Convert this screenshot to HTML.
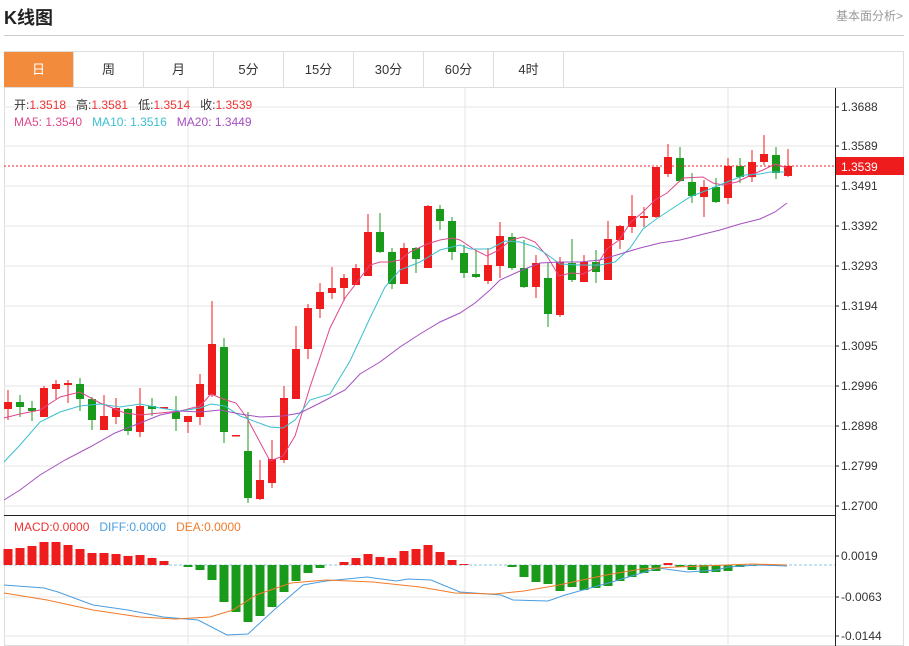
<!DOCTYPE html>
<html><head><meta charset="utf-8"><style>
body{margin:0;background:#fff;width:909px;height:646px;overflow:hidden;font-family:"Liberation Sans","Noto Sans CJK SC",sans-serif;}
.t{position:absolute;white-space:nowrap}
</style></head><body>
<div class="t" style="left:4px;top:4px;font-size:18px;font-weight:bold;color:#222">K线图</div>
<div class="t" style="left:836px;top:7px;font-size:12px;color:#999">基本面分析&gt;</div>
<div style="position:absolute;left:4px;top:35px;width:900px;height:1px;background:#ccc"></div>
<div style="position:absolute;left:4px;top:51px;width:900px;height:595px;border:1px solid #ddd;box-sizing:border-box"></div>
<div style="position:absolute;left:4px;top:87px;width:900px;height:1px;background:#ddd"></div>
<div id="tabs"></div>
<svg id="s" width="909" height="646" style="position:absolute;left:0;top:0" xmlns="http://www.w3.org/2000/svg" font-family="Liberation Sans, sans-serif"></svg>
<div class="t" style="left:14px;top:96px;font-size:12px;color:#333">开:<span style="color:#e33">1.3518</span>&nbsp;&nbsp; 高:<span style="color:#e33">1.3581</span>&nbsp;&nbsp; 低:<span style="color:#e33">1.3514</span>&nbsp;&nbsp; 收:<span style="color:#e33">1.3539</span></div>
<div class="t" style="left:14px;top:115px;font-size:12px"><span style="color:#e0488c">MA5: 1.3540</span>&nbsp;&nbsp;&nbsp;<span style="color:#3bbfcf">MA10: 1.3516</span>&nbsp;&nbsp;&nbsp;<span style="color:#a44fc0">MA20: 1.3449</span></div>
<div class="t" style="left:14px;top:520px;font-size:12px"><span style="color:#e33">MACD:0.0000</span>&nbsp;&nbsp;&nbsp;<span style="color:#4a9de0">DIFF:0.0000</span>&nbsp;&nbsp;&nbsp;<span style="color:#f07b2a">DEA:0.0000</span></div>
<script>
(function(){
var tabs=["日","周","月","5分","15分","30分","60分","4时"],h="";
tabs.forEach(function(t,i){h+='<div class="t" style="left:'+(4+70*i)+'px;top:52px;width:70px;height:35px;line-height:35px;text-align:center;font-size:13px;border-right:1px solid #ddd;box-sizing:border-box;'+(i==0?'background:#f28c3c;color:#fff':'color:#333')+'">'+t+'</div>';});
document.getElementById("tabs").innerHTML=h;
var s="";
[107,146,186,226,266,306,346,386,426,466,506,556,597,636].forEach(function(y){s+='<line x1="4" x2="835" y1="'+y+'" y2="'+y+'" stroke="#e6e6e6"/>';});
[188,465,728].forEach(function(x){s+='<line x1="'+x+'" x2="'+x+'" y1="88" y2="646" stroke="#e6e6e6"/>';});
s+='<line x1="4" x2="835" y1="515.5" y2="515.5" stroke="#222"/>';
s+='<line x1="835.5" x2="835.5" y1="88" y2="646" stroke="#222"/>';
var labs=[[107,"1.3688"],[146,"1.3589"],[186,"1.3491"],[226,"1.3392"],[266,"1.3293"],[306,"1.3194"],[346,"1.3095"],[386,"1.2996"],[426,"1.2898"],[466,"1.2799"],[506,"1.2700"],[556,"0.0019"],[597,"-0.0063"],[636,"-0.0144"]];
labs.forEach(function(l){s+='<line x1="835" x2="839" y1="'+l[0]+'" y2="'+l[0]+'" stroke="#222"/><text x="841" y="'+(l[0]+4)+'" font-size="12" fill="#333">'+l[1]+'</text>';});
var C=[[402,409,390,420,1],[402,407,395,417,0],[408,411,401,421,0],[388,417,386,417,1],[384,389,380,399,1],[383,385,380,403,1],[384,399,378,411,0],[399,420,397,430,0],[416,430,395,430,1],[408,417,398,424,1],[409,431,408,435,0],[406,432,388,437,1],[406,409,398,416,0],[407,408,407,408,1],[412,419,396,431,0],[416,422,416,433,1],[384,417,374,425,1],[344,395,301,397,1],[347,432,338,443,0],[435,436,435,436,1],[451,498,412,503,0],[480,499,460,500,1],[459,483,440,488,1],[398,460,386,463,1],[349,399,326,399,1],[308,349,304,359,1],[292,309,283,318,1],[288,293,267,299,1],[278,288,274,301,1],[268,285,264,285,1],[232,276,214,276,1],[232,252,213,253,0],[252,284,248,289,0],[248,284,243,284,1],[248,259,247,273,0],[206,268,205,268,1],[209,221,205,230,0],[221,252,217,260,0],[253,273,245,278,0],[274,277,250,278,0],[265,281,248,284,1],[236,266,222,278,1],[237,268,233,270,0],[268,287,240,288,0],[263,287,255,298,1],[278,314,263,327,0],[262,315,257,317,1],[263,280,239,282,0],[262,282,255,282,1],[262,272,250,283,0],[239,280,221,280,1],[226,240,225,249,1],[216,227,195,233,1],[216,218,207,227,1],[167,217,167,218,1],[157,174,144,177,1],[158,181,147,182,0],[182,196,173,203,0],[187,197,180,217,1],[187,202,178,203,0],[166,198,158,204,1],[166,177,158,183,0],[162,177,150,182,1],[154,162,135,165,1],[155,173,147,179,0],[166,176,149,177,1]];
C.forEach(function(c,i){var x=8+12*i,col=c[4]?"#ee1c1c":"#1a9a1a";
s+='<line x1="'+x+'" x2="'+x+'" y1="'+c[2]+'" y2="'+c[3]+'" stroke="'+col+'"/>';
s+='<rect x="'+(x-4)+'" y="'+c[0]+'" width="8" height="'+Math.max(1.5,c[1]-c[0])+'" fill="'+col+'"/>';});
function pl(p,col){return '<polyline fill="none" stroke="'+col+'" stroke-width="1" points="'+p+'"/>';}
s+=pl("4,418 20,414 40,410 60,397 80,392 100,403 125,413 140,415 160,413 180,411 200,406 211,394 223,399 236,403 247,418 270,461 283,456 295,436 310,387 330,328 345,298 370,265 380,262 390,262 400,260 410,252 427,244 440,240 452,238 460,240 475,250 487,256 499,250 511,240 523,237 535,242 547,256 559,276 571,273 583,274 595,268 607,249 619,240 631,222 643,212 655,200 667,193 683,178 703,177 713,183 723,185 737,182 751,175 763,170 775,164 787,168","#e0488c");
s+=pl("4,462 20,445 40,422 60,412 80,406 100,404 120,407 140,404 160,408 180,411 200,408 211,404 225,406 240,416 270,427 283,428 295,420 310,400 330,394 350,361 370,318 385,287 400,270 420,262 440,250 460,245 470,249 490,249 505,241 520,242 535,247 545,253 560,264 580,265 600,265 615,262 630,248 643,229 655,220 670,210 690,197 710,189 727,182 745,175 760,174 770,172 785,172","#3bbfcf");
s+=pl("4,500 20,490 40,475 65,460 90,447 115,433 140,423 160,415 180,411 200,412 220,410 240,414 260,417 283,416 300,413 320,403 345,390 360,374 380,362 400,347 420,334 440,322 460,313 475,303 490,290 500,280 520,271 540,263 560,262 580,262 600,260 620,254 640,248 660,243 680,240 700,235 720,230 740,224 760,219 775,212 787,203","#a44fc0");
s+='<line x1="4" x2="835" y1="166" y2="166" stroke="#ee1c1c" stroke-dasharray="2,2"/>';
s+='<rect x="836" y="157" width="68" height="18" fill="#ee1c1c"/><text x="841" y="171" font-size="12" fill="#fff">1.3539</text>';
s+='<line x1="4" x2="835" y1="565" y2="565" stroke="#8cc8dc" stroke-dasharray="3,2"/>';
var M={0:549,1:548,2:546,3:542,4:542,5:545,6:549,7:553,8:553,9:554,10:556,11:555,12:558,13:561,15:567,16:570,17:580,18:602,19:612,20:622,21:616,22:607,23:592,24:581,25:573,26:568,28:562,29:558,30:554,31:557,32:558,33:551,34:549,35:545,36:552,37:560,38:564,42:567,43:577,44:582,45:584,46:591,47:587,48:590,49:588,50:586,51:581,52:577,53:573,54:571,55:563,56:567,57:570,58:573,59:572,60:571,61:567,62:566,63:564,64:566};
for(var k in M){var i=+k,x=8+12*i,y=M[k],ty=Math.min(y,565),hh=Math.abs(y-565),col=y<565?"#ee1c1c":"#1a9a1a";s+='<rect x="'+(x-4.5)+'" y="'+ty+'" width="9" height="'+Math.max(1,hh)+'" fill="'+col+'"/>';}
s+=pl("4,585 44,588 58,592 93,605 128,610 163,617 198,620 227,635 248,634 274,610 303,585 326,581 367,577 396,581 408,579 431,580 460,592 501,595 513,600 548,601 565,595 612,582 658,568 688,572 717,570 728,567 758,565 787,566","#4a9de0");
s+=pl("4,593 47,600 93,610 140,617 175,619 210,617 233,610 256,595 291,583 326,580 373,582 420,587 455,593 495,594 524,591 559,585 606,575 641,569 676,567 752,564 787,565","#f07b2a");
document.getElementById("s").innerHTML=s;
})();
</script>
</body></html>
